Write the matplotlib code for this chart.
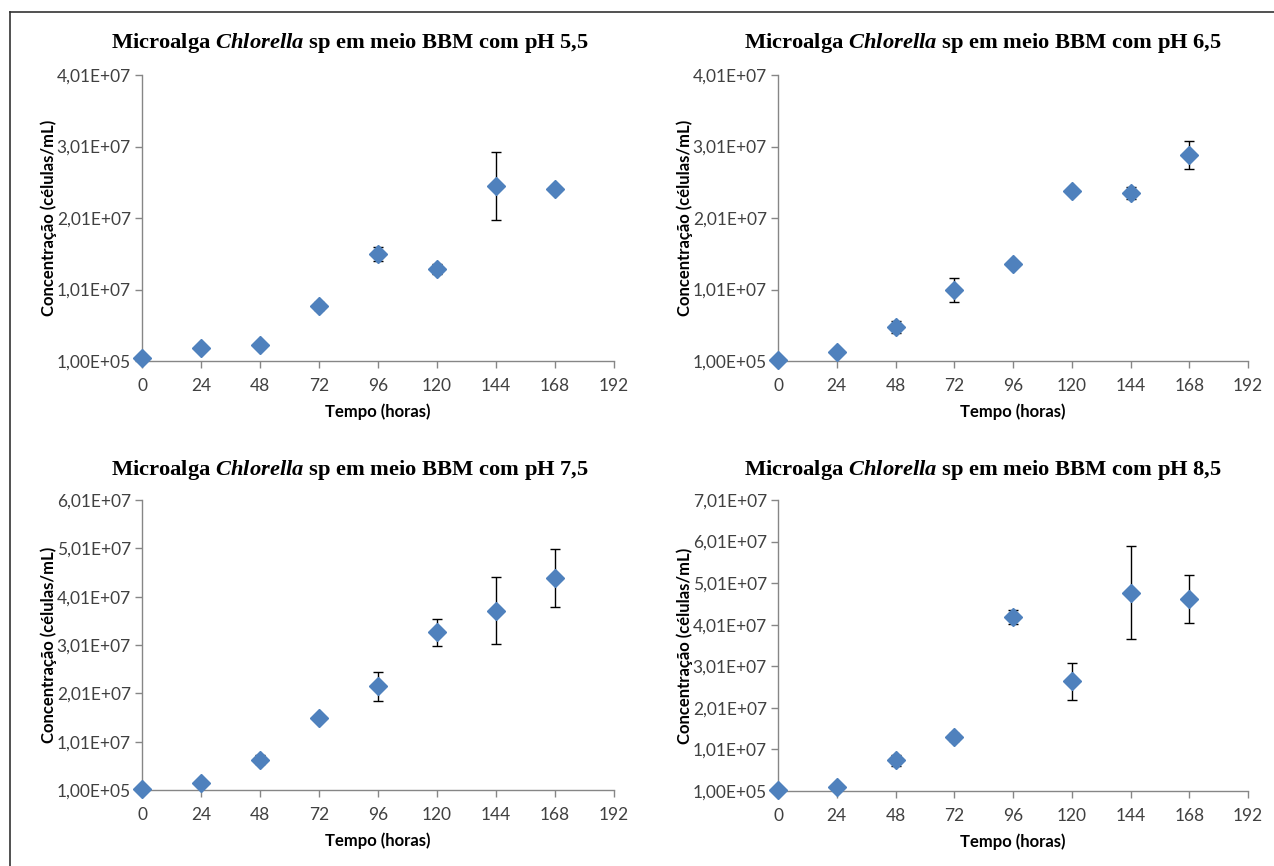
import numpy as np
import matplotlib
matplotlib.use("Agg")
import matplotlib.pyplot as plt
from matplotlib.lines import Line2D
from matplotlib.ticker import FuncFormatter

# tempo de cultivo (horas)
tempo = [0, 24, 48, 72, 96, 120, 144, 168]

# concentracao media (celulas/mL) e desvio para cada pH
conc_55 = [5.0e5, 1.9e6, 2.3e6, 7.8e6, 1.51e7, 1.30e7, 2.46e7, 2.42e7]
erro_55 = [2.0e5, 3.0e5, 3.0e5, 5.0e5, 1.0e6, 7.0e5, 4.8e6, 3.0e5]

conc_65 = [3.0e5, 1.4e6, 4.85e6, 1.0e7, 1.37e7, 2.39e7, 2.36e7, 2.89e7]
erro_65 = [2.0e5, 3.0e5, 8.0e5, 1.7e6, 4.0e5, 4.0e5, 8.0e5, 2.0e6]

conc_75 = [4.0e5, 1.5e6, 6.35e6, 1.51e7, 2.16e7, 3.27e7, 3.72e7, 4.39e7]
erro_75 = [2.0e5, 4.0e5, 9.0e5, 6.0e5, 3.0e6, 2.8e6, 6.9e6, 6.0e6]

conc_85 = [3.0e5, 1.1e6, 7.5e6, 1.31e7, 4.19e7, 2.65e7, 4.78e7, 4.62e7]
erro_85 = [2.0e5, 5.0e5, 1.3e6, 9.0e5, 1.7e6, 4.5e6, 1.12e7, 5.8e6]

ph_labels = ["5,5", "6,5", "7,5", "8,5"]
y_max = [4.01e7, 4.01e7, 6.01e7, 7.01e7]

plt.rcParams["mathtext.fontset"] = "custom"
plt.rcParams["mathtext.it"] = "Liberation Serif:bold:italic"
plt.rcParams["mathtext.rm"] = "Liberation Serif:bold"

W, H = 1274, 866
fig = plt.figure(figsize=(W / 100, H / 100), dpi=100)

# caixas dos eixos em pixels: esquerda, direita, topo, base
boxes = [(142, 614, 75, 361), (778, 1248, 75, 361),
         (142, 614, 500, 790), (778, 1248, 500, 791)]
title_pos = [(350, 43), (983, 43), (350, 470), (983, 470)]

dados = [(conc_55, erro_55), (conc_65, erro_65), (conc_75, erro_75), (conc_85, erro_85)]

sci = FuncFormatter(lambda v, p: format(v, ".2E").replace(".", ","))
eixo_cor = "#868686"
texto_cor = "#404040"

for i, (conc, erro) in enumerate(dados):
    l, r, t, b = boxes[i]
    ax = fig.add_axes([l / W, 1 - b / H, (r - l) / W, (b - t) / H])
    ax.errorbar(tempo, conc, yerr=erro, fmt="D", color="#4F81BD",
                markersize=9.5, ecolor="black", elinewidth=1,
                capsize=3.5, capthick=1, zorder=3, clip_on=False)
    ax.set_xlim(0, 192)
    ax.set_ylim(1e5, y_max[i])
    ax.set_xticks(np.arange(0, 193, 24))
    ax.set_yticks(np.arange(1e5, y_max[i] + 1, 1e7))
    ax.yaxis.set_major_formatter(sci)
    for s in ["top", "right"]:
        ax.spines[s].set_visible(False)
    for s in ["left", "bottom"]:
        ax.spines[s].set_color(eixo_cor)
        ax.spines[s].set_linewidth(1)
    ax.tick_params(axis="both", direction="out", length=5, width=1,
                   color=eixo_cor, labelcolor=texto_cor, labelsize=12.5)
    ax.tick_params(axis="x", pad=7)
    ax.tick_params(axis="y", pad=3)
    for lab in ax.get_xticklabels() + ax.get_yticklabels():
        lab.set_family("Lato")
    ax.set_xlabel("Tempo (horas)", fontsize=12, fontweight="bold", family="Lato")
    ax.set_ylabel("Concentração (células/mL)", fontsize=12, fontweight="bold", family="Lato")
    ax.xaxis.set_label_coords(0.5, -42 / (b - t))
    ax.yaxis.set_label_coords(-85 / (r - l), 0.5)
    ax.patch.set_visible(False)

    tx, ty = title_pos[i]
    fig.text(tx / W, 1 - ty / H,
             r"Microalga $\mathit{Chlorella}$ sp em meio BBM com pH " + ph_labels[i],
             ha="center", va="center", fontsize=16.2, fontweight="bold",
             family="Liberation Serif", color="black")

# moldura (apenas topo e esquerda visiveis)
bx, by = 10 / W, 1 - 12 / H
fig.add_artist(Line2D([bx, bx], [0, by], transform=fig.transFigure, color="#333333", lw=1.2))
fig.add_artist(Line2D([bx, 1], [by, by], transform=fig.transFigure, color="#333333", lw=1.2))

fig.savefig("out.png", dpi=100, facecolor="white")
